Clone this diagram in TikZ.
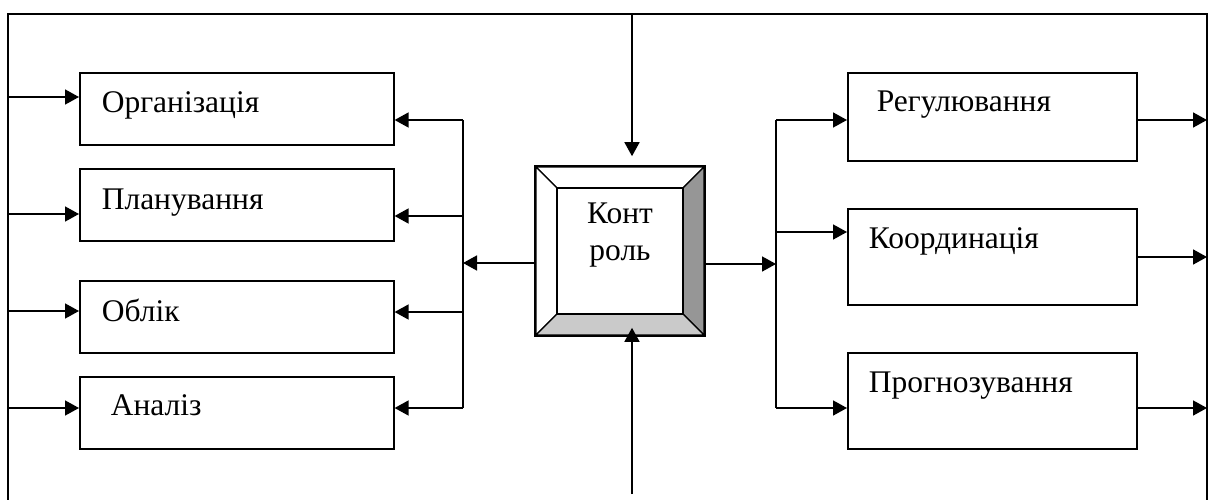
\documentclass[tikz,border=0pt]{standalone}
\usepackage{fontspec}
\setmainfont{Liberation Serif}
\usetikzlibrary{arrows.meta}
\definecolor{bevdark}{RGB}{150,150,150}
\definecolor{bevlight}{RGB}{202,202,202}
\begin{document}
\begin{tikzpicture}[x=1pt,y=-1pt,line width=1.6pt,
  box/.style={draw,rectangle,inner sep=0pt,anchor=north west},
  lbl/.style={anchor=base west,inner sep=0pt,font=\fontsize{31.5}{38}\selectfont},
  clbl/.style={anchor=base,inner sep=0pt,font=\fontsize{31.5}{38}\selectfont},
  arr/.style={-{Triangle[length=14pt,width=15pt]}},
  bev/.style={line width=1.2pt,line join=miter}]
\useasboundingbox (0,0) rectangle (1209,500);
% outer frame
\coordinate (fbl) at (8,500);
\coordinate (ftl) at (8,14);
\coordinate (ftr) at (1207,14);
\coordinate (fbr) at (1207,500);
\draw (fbl) -- (ftl) -- (ftr) -- (fbr);
% left boxes
\node[box,minimum width=314pt,minimum height=72pt] (org) at (79,72) {};
\node[box,minimum width=314pt,minimum height=72pt] (plan) at (79,168) {};
\node[box,minimum width=314pt,minimum height=72pt] (obl) at (79,280) {};
\node[box,minimum width=314pt,minimum height=72pt] (an) at (79,376) {};
\node[lbl] (torg) at (101,113) {Організація};
\node[lbl] (tplan) at (101,209) {Планування};
\node[lbl] (tobl) at (101,321) {Облік};
\node[lbl] (tan) at (110,415) {Аналіз};
% right boxes
\node[box,minimum width=289pt,minimum height=88pt] (reg) at (847,72) {};
\node[box,minimum width=289pt,minimum height=96pt] (koord) at (847,208) {};
\node[box,minimum width=289pt,minimum height=96pt] (prog) at (847,352) {};
\node[lbl] (treg) at (876,112) {Регулювання};
\node[lbl] (tkoord) at (868,248) {Координація};
\node[lbl] (tprog) at (868,392) {Прогнозування};
% central bevel box
\node[draw,rectangle,minimum size=168pt,inner sep=0pt] (ctrl) at (620,251) {};
\filldraw[bev,fill=white] (536,167) -- (704,167) -- (683,188) -- (557,188) -- cycle;
\filldraw[bev,fill=white] (536,167) -- (557,188) -- (557,314) -- (536,335) -- cycle;
\filldraw[bev,fill=bevdark] (704,167) -- (704,335) -- (683,314) -- (683,188) -- cycle;
\filldraw[bev,fill=bevlight] (536,335) -- (704,335) -- (683,314) -- (557,314) -- cycle;
\draw[bev] (557,188) rectangle (683,314);
\draw (ctrl.north west) rectangle (ctrl.south east);
\node[clbl] (tk1) at (620,223) {Конт};
\node[clbl] (tk2) at (620,260) {роль};
% inputs on the left
\coordinate (li1) at (8,97);
\coordinate (li2) at (8,214);
\coordinate (li3) at (8,311);
\coordinate (li4) at (8,408);
\draw[arr] (li1) -- (li1 -| org.west);
\draw[arr] (li2) -- (li2 -| plan.west);
\draw[arr] (li3) -- (li3 -| obl.west);
\draw[arr] (li4) -- (li4 -| an.west);
% left bus
\coordinate (lb1) at (463,120);
\coordinate (lb2) at (463,216);
\coordinate (lb3) at (463,312);
\coordinate (lb4) at (463,408);
\coordinate (lbm) at (463,263);
\draw (lb1) -- (lb4);
\draw[arr] (lb1) -- (lb1 -| org.east);
\draw[arr] (lb2) -- (lb2 -| plan.east);
\draw[arr] (lb3) -- (lb3 -| obl.east);
\draw[arr] (lb4) -- (lb4 -| an.east);
\draw[arr] (ctrl.west |- lbm) -- (lbm);
% top and bottom inputs
\coordinate (ti) at (632,14);
\coordinate (bi) at (632,494);
\draw[arr,shorten >=10pt] (ti) -- (ti |- ctrl.north);
\draw[arr,shorten >=-8pt] (bi) -- (bi |- ctrl.south);
% right bus
\coordinate (rb1) at (776,120);
\coordinate (rb2) at (776,232);
\coordinate (rb3) at (776,408);
\coordinate (rbm) at (776,264);
\draw (rb1) -- (rb3);
\draw[arr] (ctrl.east |- rbm) -- (rbm);
\draw[arr] (rb1) -- (rb1 -| reg.west);
\draw[arr] (rb2) -- (rb2 -| koord.west);
\draw[arr] (rb3) -- (rb3 -| prog.west);
% outputs on the right
\coordinate (ro1) at (1207,120);
\coordinate (ro2) at (1207,257);
\coordinate (ro3) at (1207,408);
\draw[arr] (ro1 -| reg.east) -- (ro1);
\draw[arr] (ro2 -| koord.east) -- (ro2);
\draw[arr] (ro3 -| prog.east) -- (ro3);
\end{tikzpicture}
\end{document}
